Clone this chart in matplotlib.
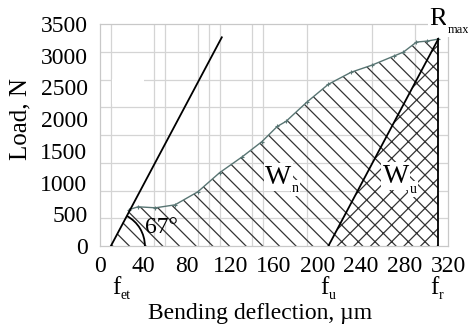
import numpy as np
import matplotlib
matplotlib.use("Agg")
import matplotlib.pyplot as plt
from matplotlib.patches import Polygon, Rectangle, Arc
from matplotlib.transforms import ScaledTranslation

plt.rcParams['font.family'] = ['Liberation Serif', 'DejaVu Serif']
plt.rcParams['hatch.linewidth'] = 0.9

# ---- data ----
deflection = [27, 35, 51, 69, 90, 110, 131, 149, 163, 171, 190, 210, 231, 250, 270, 279, 291, 301, 311]
load = [575, 618, 602, 649, 855, 1156, 1409, 1647, 1885, 1964, 2265, 2550, 2740, 2851, 2993, 3057, 3215, 3231, 3262]
f_et = 10
f_u = 210
f_r = 311
R_max = 3262
elastic_x = [10, 112]
elastic_y = [0, 3290]
x_ticks = [0, 40, 80, 120, 160, 200, 240, 280, 320]
y_ticks = [0, 500, 1000, 1500, 2000, 2500, 3000, 3500]
grid_x = [10, 40, 50, 60, 90, 100, 110, 140, 150, 190, 200, 240, 250, 290, 320]
grid_y = list(np.arange(0, 3501, 437.5))

fig = plt.figure(figsize=(4.68, 3.25), dpi=100)
ax = fig.add_axes([100/468, 79/325, 348/468, 222/325])
ax.set_xlim(0, 320)
ax.set_ylim(0, 3500)

ax.set_xticks(x_ticks)
ax.set_yticks(y_ticks)
ax.set_xticks(grid_x, minor=True)
ax.set_yticks(grid_y, minor=True)
ax.grid(which='minor', color='#d4d4d4', lw=0.9)
ax.grid(which='major', visible=False)
ax.set_axisbelow(True)
ax.tick_params(which='both', length=0)
ax.tick_params(axis='y', pad=9, labelsize=17)
ax.tick_params(axis='x', pad=7, labelsize=17)
for s in ax.spines.values():
    s.set_color('#c8c8c8')
    s.set_linewidth(0.9)

# erased patch of grid
ax.add_patch(Rectangle((11, 2232), 29, 396, facecolor='white', edgecolor='none', zorder=1))

# W_n region
wn = [(f_et, 0)] + list(zip(deflection, load)) + [(f_r, R_max), (f_u, 0)]
ax.add_patch(Polygon(wn, closed=True, facecolor='none', edgecolor='#333333',
                     linewidth=0, hatch='\\\\', zorder=2))
# W_u region
wu = [(f_u, 0), (f_r, R_max), (f_r, 0)]
ax.add_patch(Polygon(wu, closed=True, facecolor='white', edgecolor='#333333',
                     linewidth=0, hatch='xx', zorder=2))

# curve
ax.plot(deflection, load, color='#587573', lw=1.0, marker='+', ms=3, mew=0.8, zorder=4)
# lines
ax.plot(elastic_x, elastic_y, color='black', lw=1.3, zorder=5)
ax.plot([f_u, f_r], [0, R_max], color='black', lw=1.3, zorder=5)
ax.plot([f_r, f_r], [0, R_max], color='black', lw=1.3, zorder=5)

# angle arc
fig.canvas.draw()
p0 = ax.transData.transform((elastic_x[0], elastic_y[0]))
p1 = ax.transData.transform((elastic_x[1], elastic_y[1]))
ang = np.degrees(np.arctan2(p1[1]-p0[1], p1[0]-p0[0]))
tr = fig.dpi_scale_trans + ScaledTranslation(f_et, 0, ax.transData)
ax.add_patch(Arc((0, 0), 0.68, 0.68, theta1=0, theta2=ang, transform=tr,
                 color='black', lw=1.3, zorder=5))
ax.text(41, 206, '67°', fontsize=17, va='baseline', ha='left', zorder=6)


def sublabel(main, sub, xy, off, size, subsize, sub_dy, bg=False):
    kw = dict(bbox=dict(facecolor='white', edgecolor='none', pad=1)) if bg else {}
    t = ax.annotate(main, xy=xy, xycoords='data', xytext=off, textcoords='offset pixels',
                    fontsize=size, ha='left', va='baseline', annotation_clip=False, zorder=7, **kw)
    fig.canvas.draw()
    bb = t.get_window_extent()
    s = ax.annotate(sub, xy=xy, xycoords='data',
                    xytext=(off[0] + bb.width + 0.5, off[1] - sub_dy), textcoords='offset pixels',
                    fontsize=subsize, ha='left', va='baseline', annotation_clip=False, zorder=7, **kw)
    return t, s


# region labels
sublabel('W', 'n', (152, 982), (0, 0), 20, 10, 8, bg=True)
sublabel('W', 'u', (260, 998), (0, 0), 20, 10, 10, bg=True)

# R_max
sublabel('R', 'max', (f_r, R_max), (-9, 14), 19, 9, 8, bg=True)

# f labels
sublabel('f', 'et', (f_et, 0), (1, -48), 18, 10, 5)
sublabel('f', 'u', (f_u, 0), (-8, -48), 18, 10, 5)
sublabel('f', 'r', (f_r, 0), (-8, -48), 18, 10, 5)

fig.text(20/468, 1-119/325, 'Load, N', rotation=90, fontsize=18, ha='center', va='center')
fig.text(260/468, 1-319/325, 'Bending deflection, µm', fontsize=17, ha='center', va='baseline')

fig.savefig('out.png', dpi=100)
